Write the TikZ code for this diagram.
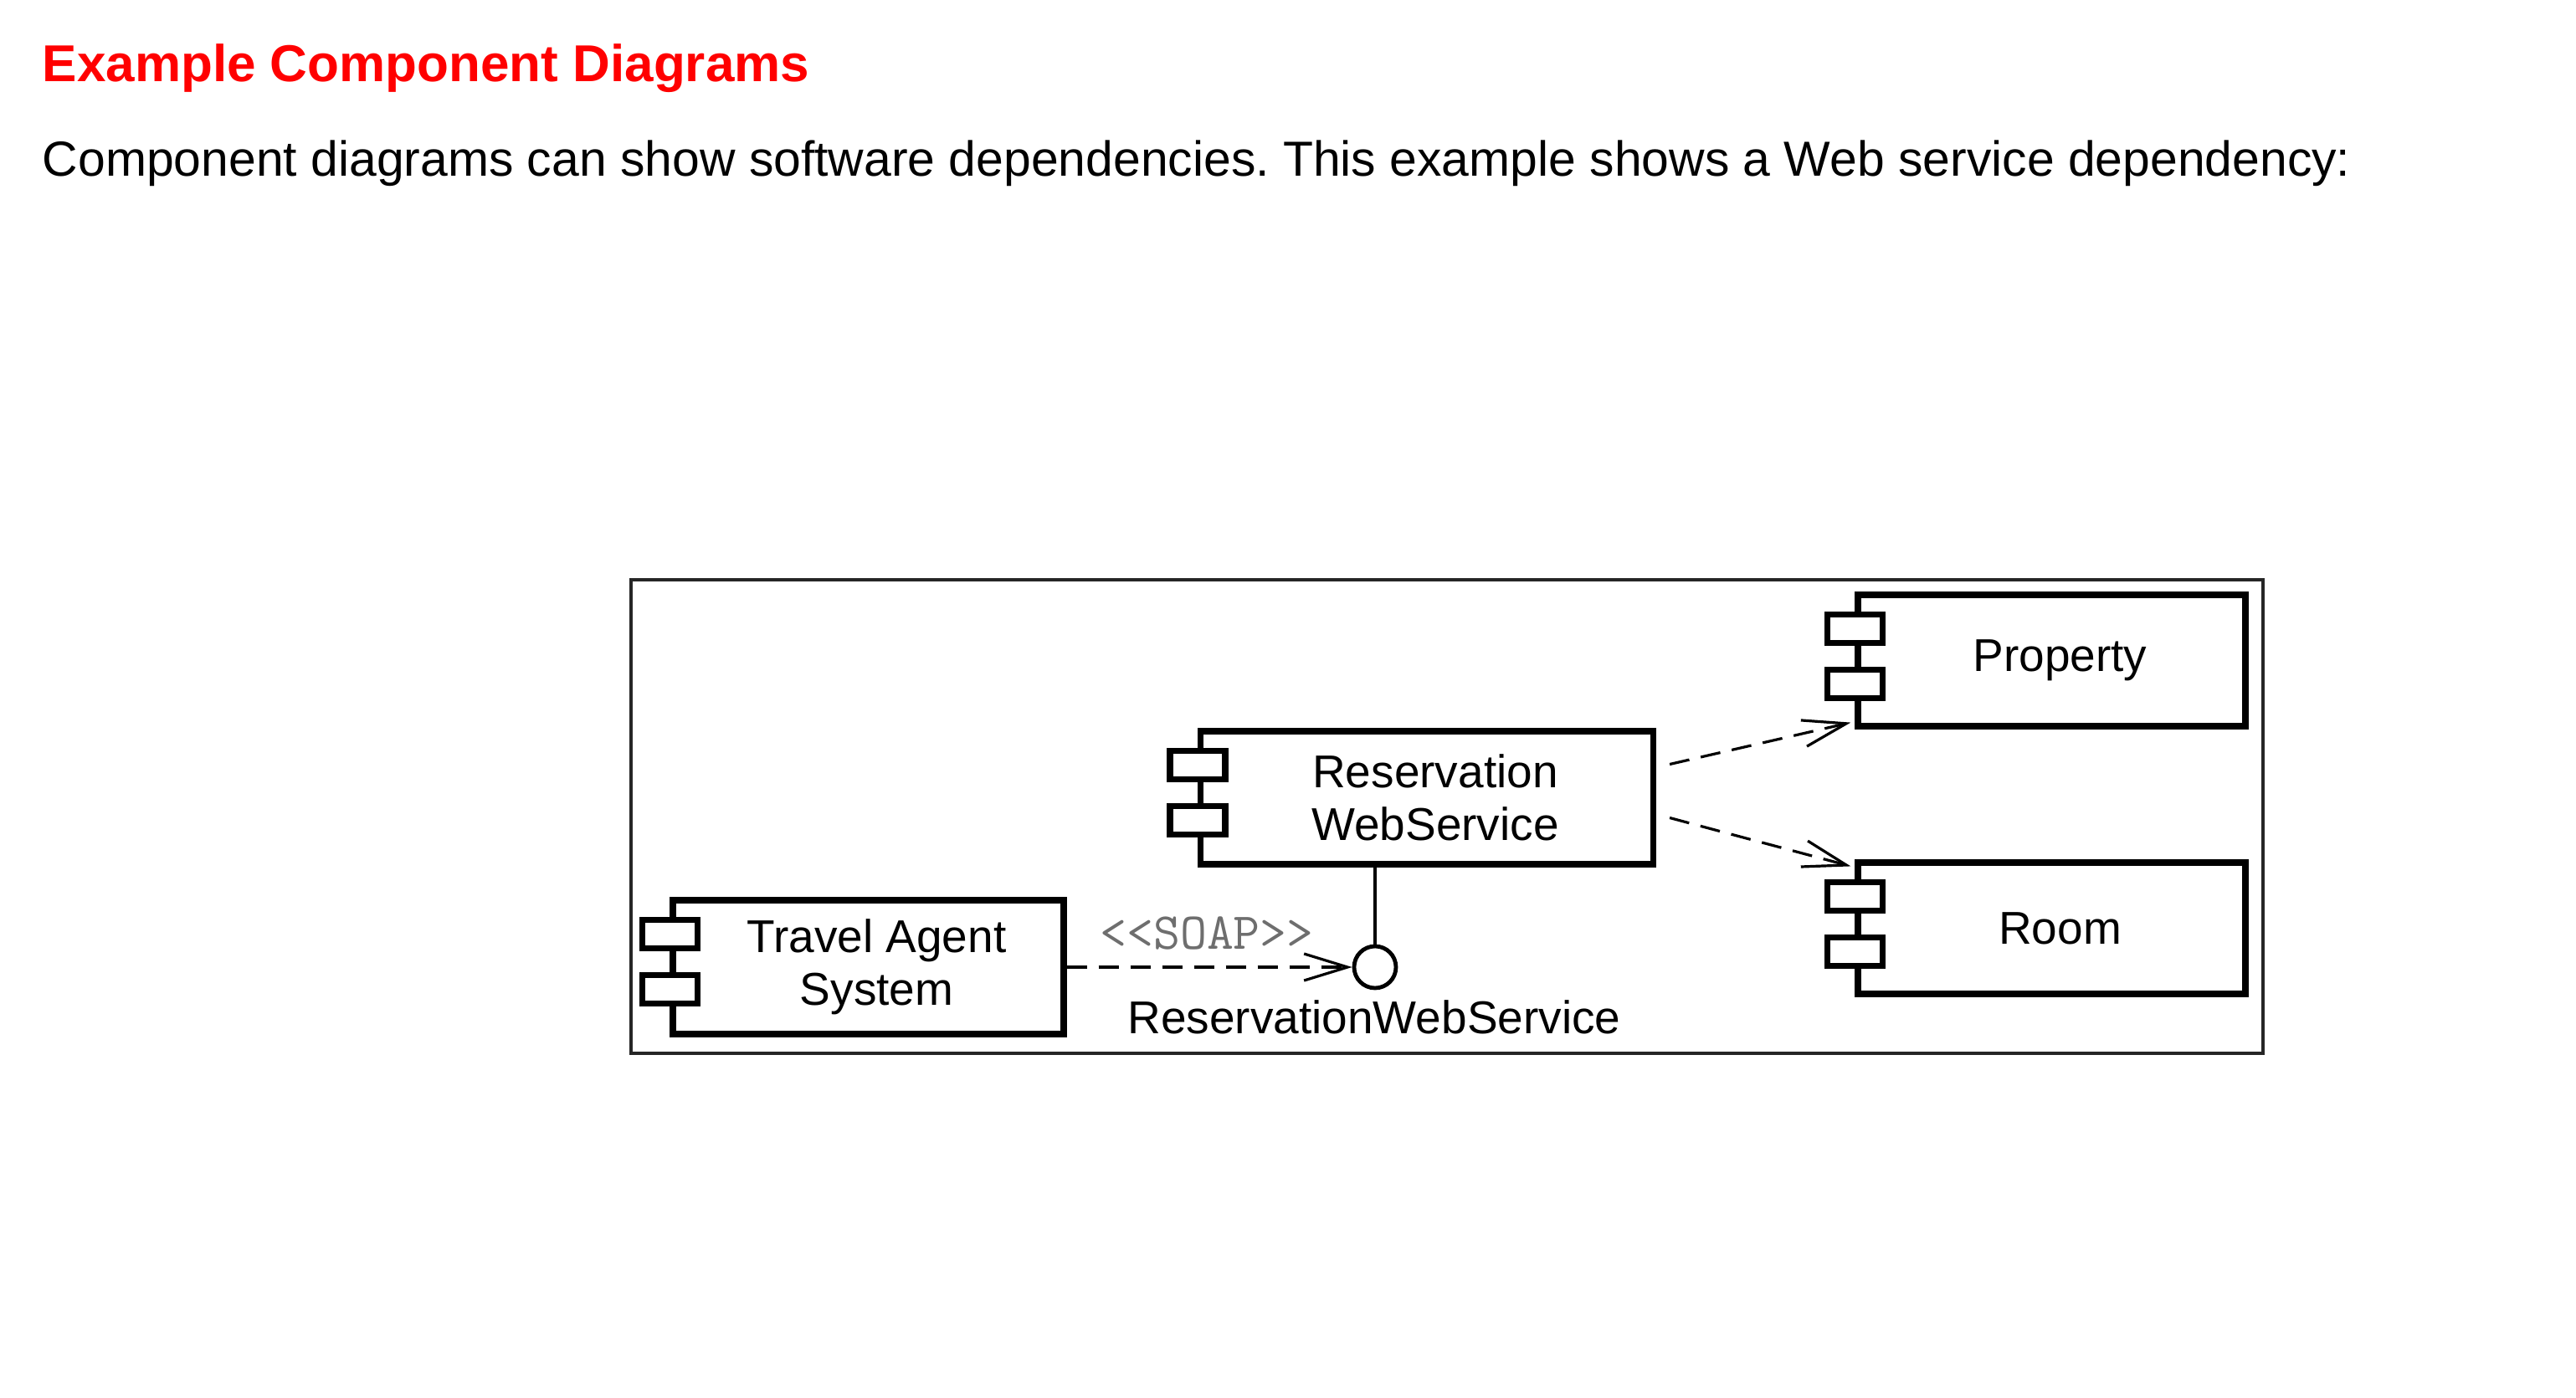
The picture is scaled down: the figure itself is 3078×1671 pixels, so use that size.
\documentclass[tikz,border=0pt]{standalone}
\usepackage{fontspec}
\setmainfont{Liberation Sans}
\usetikzlibrary{arrows.meta,calc}
\definecolor{titlered}{HTML}{FF0000}
\definecolor{soapgrey}{HTML}{6E6E6E}
\frenchspacing
\begin{document}
\begin{tikzpicture}[x=0.25pt,y=-0.25pt,
  comp/.style={draw, line width=1.8pt, rectangle, inner sep=0pt, align=center,
    font=\fontsize{13.75}{15.75}\selectfont},
  tab/.style={draw, fill=white, line width=1.8pt, rectangle, minimum width=16.5pt,
    minimum height=8.5pt, inner sep=0pt},
  dep/.style={line width=0.8pt, dash pattern=on 6pt off 3.5pt,
    -{Straight Barb[length=13pt,width=8pt,line width=0.8pt]}},
  lbl/.style={inner sep=0pt, font=\fontsize{13.75}{15.75}\selectfont}
]
\useasboundingbox (0,0) rectangle (3078,1671);

\node[anchor=base west, inner sep=0pt, text=titlered,
  font=\fontsize{15.5}{18}\selectfont\bfseries] (title) at (50,97) {Example Component Diagrams};
\node[anchor=base west, inner sep=0pt, font=\fontsize{14.72}{17}\selectfont] (intro) at (50,210)
  {Component diagrams can show software dependencies. This example shows a Web service dependency:};

\node[draw=black!85, line width=0.9pt, minimum width=487.5pt, minimum height=141.5pt,
  inner sep=0pt] (frame) at (1729,976) {};

\node[comp, minimum width=135.25pt, minimum height=39.75pt] (rws) at (1705,953.5)
  {\hspace*{5pt}Reservation\\\hspace*{5pt}WebService};
\node[comp, minimum width=116.75pt, minimum height=40pt] (ta) at (1037.5,1156)
  {\hspace*{5pt}Travel Agent\\\hspace*{5pt}System};
\node[comp, minimum width=115.75pt, minimum height=39.25pt] (prop) at (2451.5,789.5)
  {\hspace*{5pt}Property};
\node[comp, minimum width=115.75pt, minimum height=39.25pt] (room) at (2451.5,1109.5)
  {\hspace*{5pt}Room};

\foreach \c in {rws,ta,prop,room}{
  \node[tab] (\c-t1) at ($(\c.north west)+(0,44)$) {};
  \node[tab] (\c-t2) at ($(\c.north west)+(0,110)$) {};
}

\node[circle, draw, line width=1.2pt, minimum size=12.5pt, inner sep=0pt, fill=white]
  (iface) at (1643,1156) {};
\draw[line width=0.8pt] (iface.north) -- (iface.north |- rws.south);
\draw[dep] (ta.east) -- (iface.west);

\node[lbl, anchor=base, text=soapgrey, font=\ttfamily\fontsize{15.5}{17}\selectfont]
  (soap) at (1442,1134) {\textless\kern0pt\textless SOAP\textgreater\kern0pt\textgreater};
\node[lbl, anchor=base] (ifacelbl) at (1642,1235) {ReservationWebService};

\draw[dep] ($(rws.east)+(16,-40)$) -- ($(prop.south west)+(-5,-8)$);
\draw[dep] ($(rws.east)+(16,24)$) -- ($(room.north west)+(-5,8)$);
\end{tikzpicture}
\end{document}
